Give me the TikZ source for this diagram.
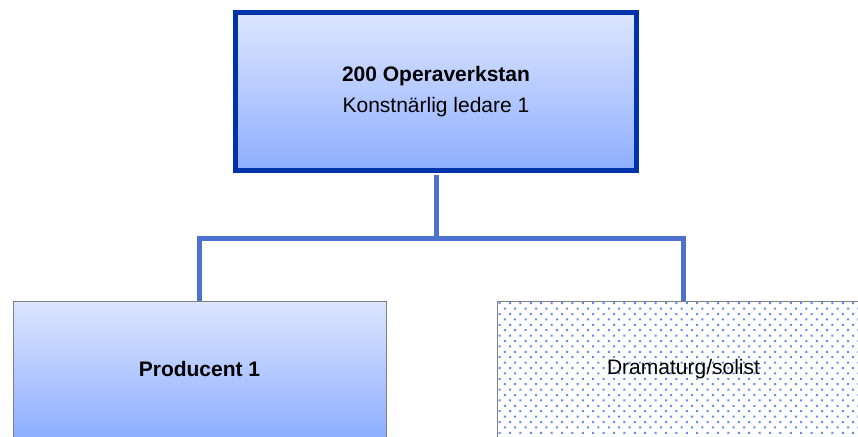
\documentclass[tikz,border=0pt]{standalone}
\usepackage{fontspec}
\setmainfont{Liberation Sans}
\definecolor{boxtop}{RGB}{221,230,255}
\definecolor{boxbottom}{RGB}{142,174,255}
\definecolor{darkframe}{RGB}{0,51,170}
\definecolor{linkblue}{RGB}{76,114,206}
\definecolor{dotblue}{RGB}{100,140,232}

\begin{document}
\begin{tikzpicture}[
x=1pt, y=-1pt,
headbox/.style={
  rectangle,
  minimum width=401.2pt,
  minimum height=158.2pt,
  preaction={draw=gray, line width=5.6pt},
  draw=darkframe, line width=4.4pt,
  top color=boxtop, bottom color=boxbottom,
  align=center,
  font=\fontsize{21}{31}\selectfont},
unitbox/.style={
  rectangle,
  minimum width=373pt,
  minimum height=136pt,
  draw=gray, line width=0.8pt,
  font=\fontsize{21}{25}\selectfont},
link/.style={
  draw=linkblue,
  line width=5pt,
  line join=miter}
]
\useasboundingbox (0,0) rectangle (858,436);
\clip (0,0) rectangle (858,436);
\node[headbox] (opera) at (436,91.5)
  {\bfseries 200 Operaverkstan\\ Konstnärlig ledare 1};
\node[unitbox, top color=boxtop, bottom color=boxbottom] (prod) at (199.5,369)
  {\bfseries Producent 1};
% dotted fill of the right box
\begin{scope}
  \clip (497.4,301.4) rectangle (870,437);
  \fill[dotblue] \foreach \Row in {0,...,26} {
    \foreach \Col in {0,...,36} {
      ({497+1.6+\Col*10.4+mod(\Row,2)*5.2},{301+1.2+\Row*5.4}) rectangle ++(2,2)
    }
  };
\end{scope}
\node[unitbox] (dram) at (683.5,369)
  {Dramaturg/solist};
\draw[link, shorten <=2.6pt] (opera.south) -- ++(0,65.4) coordinate (fork);
\foreach \Kid in {prod,dram}
  \draw[link] (fork) -| (\Kid.north);
\end{tikzpicture}
\end{document}
